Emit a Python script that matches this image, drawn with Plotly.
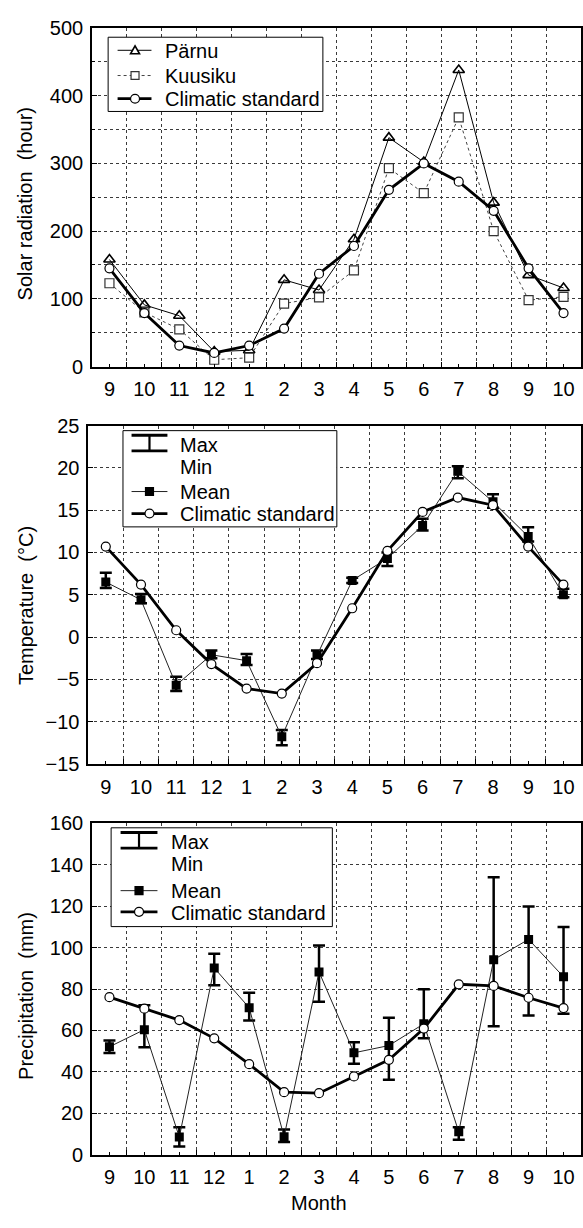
import plotly.graph_objects as go

# ---------------- data ----------------
months = ["9", "10", "11", "12", "1", "2", "3", "4", "5", "6", "7", "8", "9", "10"]
xpos = list(range(len(months)))

solar_parnu = [158, 91, 75, 22, 24, 128, 113, 188, 338, 302, 438, 242, 135, 116]
solar_kuusiku = [123, 80, 55, 10, 13, 93, 102, 142, 293, 256, 368, 200, 98, 103]
solar_climatic = [145, 79, 31, 20, 31, 56, 137, 178, 261, 300, 273, 230, 145, 79]

temp_mean = [6.5, 4.4, -5.7, -2.1, -2.8, -11.8, -2.2, 6.7, 9.3, 13.2, 19.6, 16.0, 11.9, 5.0]
temp_max = [7.6, 5.1, -4.7, -1.6, -2.0, -11.0, -1.6, 7.0, 10.0, 14.0, 20.2, 16.9, 13.0, 5.7]
temp_min = [5.8, 4.0, -6.4, -2.5, -3.3, -12.8, -2.6, 6.4, 8.4, 12.6, 18.8, 15.3, 11.3, 4.7]
temp_climatic = [10.7, 6.2, 0.8, -3.2, -6.1, -6.7, -3.1, 3.4, 10.2, 14.8, 16.5, 15.6, 10.7, 6.2]

prec_mean = [52.1, 60.4, 8.5, 90.2, 71.0, 8.7, 88.3, 49.2, 52.7, 63.2, 11.0, 94.2, 104.0, 85.9]
prec_max = [55.1, 72.2, 13.2, 97.1, 78.2, 12.1, 101.0, 54.3, 66.1, 79.9, 13.2, 134.0, 119.9, 110.0]
prec_min = [49.1, 51.9, 3.9, 81.8, 64.8, 6.1, 73.9, 43.9, 36.2, 56.2, 7.2, 62.0, 67.2, 68.1]
prec_climatic = [76.1, 70.5, 65.0, 56.2, 43.7, 30.2, 29.7, 37.8, 45.8, 60.9, 82.3, 81.5, 75.8, 70.8]

# ---------------- styling ----------------
FONT = "Liberation Sans, Arial, sans-serif"
W, H = 583, 1228
GRID = "#3a3a3a"


def fx(p):
    return p / W


def fy(p):
    return 1 - p / H


fig = go.Figure()

# ---- top panel: solar radiation ----
fig.add_trace(go.Scatter(x=xpos, y=solar_parnu, mode="lines+markers", name="Pärnu",
                         line=dict(color="black", width=1),
                         marker=dict(symbol="triangle-up-open", size=10, color="black",
                                     line=dict(width=1.6)),
                         xaxis="x", yaxis="y", showlegend=False))
fig.add_trace(go.Scatter(x=xpos, y=solar_kuusiku, mode="lines+markers", name="Kuusiku",
                         line=dict(color="#444444", width=1, dash="dot"),
                         marker=dict(symbol="square", size=9, color="white",
                                     line=dict(width=1.2, color="#333333")),
                         xaxis="x", yaxis="y", showlegend=False))
fig.add_trace(go.Scatter(x=xpos, y=solar_climatic, mode="lines+markers", name="Climatic standard",
                         line=dict(color="black", width=2.8),
                         marker=dict(symbol="circle", size=9, color="white",
                                     line=dict(width=1.2, color="black")),
                         xaxis="x", yaxis="y", showlegend=False))


def err(mean, mx, mn):
    return dict(type="data", symmetric=False,
                array=[a - m for a, m in zip(mx, mean)],
                arrayminus=[m - b for m, b in zip(mean, mn)],
                color="black", thickness=2.5, width=6)


# ---- middle panel: temperature ----
fig.add_trace(go.Scatter(x=xpos, y=temp_mean, mode="lines+markers", name="Mean",
                         line=dict(color="#222222", width=1),
                         marker=dict(symbol="square", size=9, color="black"),
                         error_y=err(temp_mean, temp_max, temp_min),
                         xaxis="x2", yaxis="y2", showlegend=False))
fig.add_trace(go.Scatter(x=xpos, y=temp_climatic, mode="lines+markers", name="Climatic standard",
                         line=dict(color="black", width=2.8),
                         marker=dict(symbol="circle", size=9, color="white",
                                     line=dict(width=1.2, color="black")),
                         xaxis="x2", yaxis="y2", showlegend=False))

# ---- bottom panel: precipitation ----
fig.add_trace(go.Scatter(x=xpos, y=prec_mean, mode="lines+markers", name="Mean",
                         line=dict(color="#222222", width=1),
                         marker=dict(symbol="square", size=9, color="black"),
                         error_y=err(prec_mean, prec_max, prec_min),
                         xaxis="x3", yaxis="y3", showlegend=False))
fig.add_trace(go.Scatter(x=xpos, y=prec_climatic, mode="lines+markers", name="Climatic standard",
                         line=dict(color="black", width=2.8),
                         marker=dict(symbol="circle", size=9, color="white",
                                     line=dict(width=1.2, color="black")),
                         xaxis="x3", yaxis="y3", showlegend=False))

# ---------------- axes ----------------
panels = [
    dict(xl=92.3, top=17.3, bot=362.0, rng=[0, 500], dtick=100, minor=50),
    dict(xl=88.5, top=422.3, bot=766.5, rng=[-15, 25], dtick=5, minor=None),
    dict(xl=92.3, top=827.3, bot=1164.5, rng=[0, 160], dtick=20, minor=None),
]

tickfont = dict(size=20, color="black", family=FONT)
layout_axes = {}
for i, p in enumerate(panels, start=1):
    sfx = "" if i == 1 else str(i)
    xa = dict(domain=[fx(p["xl"]), 1.0], range=[-0.5, 13.5], anchor="y" + sfx,
              tickmode="array", tickvals=xpos, ticktext=months,
              showgrid=False, zeroline=False, showline=True, linecolor="black",
              linewidth=1.5, mirror=True, ticks="inside", ticklen=3, tickcolor="black",
              minor=dict(tickmode="linear", tick0=0.5, dtick=1, showgrid=True,
                         gridcolor=GRID, griddash="dot", gridwidth=1,
                         ticks="inside", ticklen=5, tickcolor="black"),
              tickfont=tickfont, ticklabelstandoff=4)
    ya = dict(domain=[fy(p["bot"]), fy(p["top"])], range=p["rng"], anchor="x" + sfx,
              tickmode="linear", tick0=p["rng"][0], dtick=p["dtick"],
              showgrid=True, gridcolor=GRID, griddash="dot", gridwidth=1,
              zeroline=False, showline=True, linecolor="black", linewidth=1.5,
              mirror=True, ticks="inside", ticklen=5, tickcolor="black",
              tickfont=tickfont, ticklabelstandoff=3)
    if p["minor"]:
        ya["minor"] = dict(tickmode="linear", tick0=0, dtick=p["minor"], showgrid=True,
                           gridcolor=GRID, griddash="dot", gridwidth=1,
                           ticks="inside", ticklen=3, tickcolor="black")
    layout_axes["xaxis" + sfx] = xa
    layout_axes["yaxis" + sfx] = ya

# ---------------- legends (drawn as shapes + text) ----------------
shapes = []
annotations = []


def box(x0, y0, x1, y1):
    shapes.append(dict(type="rect", xref="paper", yref="paper", layer="above",
                       x0=fx(x0), x1=fx(x1), y0=fy(y1), y1=fy(y0),
                       line=dict(color="black", width=1), fillcolor="white"))


def hline(x0, x1, y, width=1, color="black", dash="solid"):
    shapes.append(dict(type="line", xref="paper", yref="paper", layer="above",
                       x0=fx(x0), x1=fx(x1), y0=fy(y), y1=fy(y),
                       line=dict(color=color, width=width, dash=dash)))


def vline(x, y0, y1, width=1, color="black"):
    shapes.append(dict(type="line", xref="paper", yref="paper", layer="above",
                       x0=fx(x), x1=fx(x), y0=fy(y0), y1=fy(y1),
                       line=dict(color=color, width=width)))


def circ(cx, cy, r=4.5):
    shapes.append(dict(type="circle", xref="paper", yref="paper", layer="above",
                       x0=fx(cx - r), x1=fx(cx + r), y0=fy(cy + r), y1=fy(cy - r),
                       line=dict(color="black", width=1.2), fillcolor="white"))


def sq(cx, cy, r=4.0, fill="white", color="#333333"):
    shapes.append(dict(type="rect", xref="paper", yref="paper", layer="above",
                       x0=fx(cx - r), x1=fx(cx + r), y0=fy(cy + r), y1=fy(cy - r),
                       line=dict(color=color, width=1.2), fillcolor=fill))


def tri(cx, cy, r=4.5):
    path = "M {:.5f},{:.5f} L {:.5f},{:.5f} L {:.5f},{:.5f} Z".format(
        fx(cx), fy(cy - r), fx(cx - r), fy(cy + r * 0.8), fx(cx + r), fy(cy + r * 0.8))
    shapes.append(dict(type="path", xref="paper", yref="paper", layer="above", path=path,
                       line=dict(color="black", width=1.6), fillcolor="white"))


def label(x, y, text):
    annotations.append(dict(xref="paper", yref="paper", x=fx(x), y=fy(y), text=text,
                            showarrow=False, xanchor="left", yanchor="middle",
                            font=dict(size=20, color="black", family=FONT)))


# top legend
box(108.5, 26.7, 324, 102.3)
hline(118, 152, 40, 1)
tri(135.5, 40)
label(164, 41, "Pärnu")
hline(118, 152, 65.7, 1, "#444444", "dot")
sq(135.5, 65.7)
label(164, 66, "Kuusiku")
hline(118, 152, 89.3, 2.8)
circ(135.5, 89.3)
label(164, 90, "Climatic standard")

# middle legend
box(123.4, 427.3, 338, 525.3)
hline(132, 168, 432.0, 2.8)
hline(132, 168, 448.0, 2.8)
vline(150, 432.0, 448.0, 2.2)
label(179, 442, "Max")
label(179, 464, "Min")
hline(132, 168, 489.3, 1, "#222222")
sq(150, 489.3, 4.0, "black", "black")
label(179, 490, "Mean")
hline(132, 168, 511.7, 2.8)
circ(150, 511.7)
label(179, 512, "Climatic standard")

# bottom legend
box(111.5, 831.7, 333.5, 932.3)
hline(121, 158, 836.5, 2.8)
hline(121, 158, 852.3, 2.8)
vline(139.5, 836.5, 852.3, 2.2)
label(170, 846, "Max")
label(170, 868.5, "Min")
hline(121, 158, 895.7, 1, "#222222")
sq(139.5, 895.7, 4.0, "black", "black")
label(170, 896, "Mean")
hline(121, 158, 917.3, 2.8)
circ(139.5, 917.3)
label(170, 918, "Climatic standard")

# axis titles
for text, yc in [("Solar radiation\u00a0 (hour)", 196),
                 ("Temperature\u00a0 (°C)", 605),
                 ("Precipitation\u00a0 (mm)", 1003)]:
    annotations.append(dict(xref="paper", yref="paper", x=fx(26), y=fy(yc), text=text,
                            textangle=-90, showarrow=False, xanchor="center", yanchor="middle",
                            font=dict(size=20, color="black", family=FONT)))
annotations.append(dict(xref="paper", yref="paper", x=fx(320), y=fy(1214), text="Month",
                        showarrow=False, xanchor="center", yanchor="middle",
                        font=dict(size=20, color="black", family=FONT)))

fig.update_layout(
    width=W, height=H,
    margin=dict(l=0, r=0, t=0, b=0),
    paper_bgcolor="white", plot_bgcolor="white",
    font=dict(family=FONT, size=20, color="black"),
    showlegend=False,
    shapes=shapes, annotations=annotations,
    **layout_axes,
)

fig.write_html("out.html", config={"displayModeBar": False},
               post_script="document.body.style.margin='0';document.body.style.overflow='hidden';")
